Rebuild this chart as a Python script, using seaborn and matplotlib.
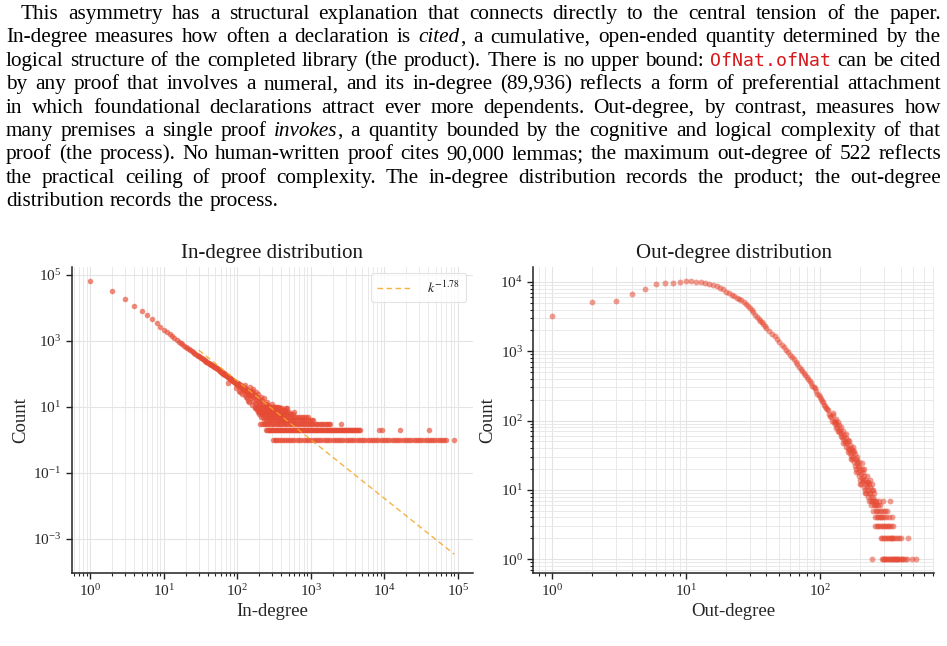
import re
import matplotlib
matplotlib.use("Agg")
import matplotlib.pyplot as plt
from matplotlib.ticker import LogLocator, NullLocator, NullFormatter
from matplotlib.transforms import IdentityTransform
import numpy as np
import pandas as pd
import seaborn as sns

W, H = 947, 646
RED = "#E64B35"
FIT = "#F5A623"

# ---- paragraph above the figure ----
para_lines = [
    "This asymmetry has a structural explanation that connects directly to the central tension of the paper.",
    "In-degree measures how often a declaration is *cited*, a cumulative, open-ended quantity determined by the",
    "logical structure of the completed library (the product). There is no upper bound: `OfNat.ofNat` can be cited",
    "by any proof that involves a numeral, and its in-degree (89,936) reflects a form of preferential attachment",
    "in which foundational declarations attract ever more dependents. Out-degree, by contrast, measures how",
    "many premises a single proof *invokes*, a quantity bounded by the cognitive and logical complexity of that",
    "proof (the process). No human-written proof cites 90,000 lemmas; the maximum out-degree of 522 reflects",
    "the practical ceiling of proof complexity. The in-degree distribution records the product; the out-degree",
    "distribution records the process.",
]

# ---- in-degree distribution (degree, number of declarations) ----
in_head_deg = [1, 2, 3, 4, 5, 6, 7, 8, 9, 10, 11, 12, 13, 14, 15, 16, 17, 18, 19, 20,
               21, 22, 23, 24, 25, 26, 27, 28, 29, 30, 31, 32, 33, 34, 35, 36, 37, 38, 39, 40]
in_head_cnt = [64600, 33100, 17800, 11500, 7900, 5900, 4400, 3450, 2650, 2150,
               1800, 1570, 1340, 1190, 1040, 940, 845, 780, 700, 655,
               600, 556, 512, 482, 445, 420, 392, 376, 350, 334,
               318, 300, 290, 276, 262, 254, 240, 232, 220, 214]

in_mid_deg = [41, 42, 43, 44, 45, 46, 47, 48, 49, 50, 51, 52, 53, 54, 55, 56, 57, 58, 59, 60,
              61, 62, 63, 64, 65, 66, 67, 68, 69, 70, 71, 72, 73, 74, 75, 76, 77, 78, 79, 80,
              81, 82, 83, 84, 85, 86, 87, 88, 89, 90, 91, 92, 93, 94, 95, 96, 97, 98, 99, 100,
              101, 102, 103, 104, 105, 106, 107, 108, 109, 110, 111, 112, 113, 114, 115, 116,
              117, 118, 119, 120, 121, 122, 123, 124, 125, 126, 127, 128, 129, 130, 131, 132,
              133, 134, 135, 136, 137, 138, 139, 140, 141, 142, 143, 144, 145, 146, 147, 148,
              149, 150, 151, 152, 153, 154]
in_mid_cnt = [206, 198, 195, 188, 180, 178, 170, 166, 160, 154, 150, 144, 146, 140, 134, 128, 127, 124, 121, 114,
              112, 112, 108, 102, 99, 101, 97, 92, 90, 90, 88, 86, 82, 80, 84, 79, 76, 74, 71, 73,
              72, 68, 64, 64, 63, 66, 60, 58, 58, 61, 56, 55, 54, 57, 51, 50, 52, 53, 47, 48,
              46, 51, 50, 43, 47, 44, 42, 45, 41, 41, 43, 46, 38, 42, 38, 37,
              40, 40, 35, 38, 34, 33, 37, 38, 32, 36, 31, 30, 34, 35, 30, 33,
              28, 28, 31, 33, 27, 30, 26, 26, 29, 30, 25, 28, 24, 23, 27, 28,
              22, 26, 22, 21, 25, 27]

in_low_deg = [75, 95, 105, 110, 118, 126, 128, 131, 138, 141, 146, 150, 160, 165, 172]
in_low_cnt = [52, 36, 30, 28, 24, 22, 45, 20, 18, 15, 14, 40, 11, 35, 9]

in_spread_deg = [155, 158, 160, 163, 166, 169, 172, 175, 178, 181, 184, 187, 190, 193, 196, 200,
                 203, 206, 210, 214, 218, 222, 226, 230, 235, 240, 245, 250, 255, 260, 265, 270,
                 276, 282, 288, 294, 300, 306, 313, 320, 327, 335, 343, 352, 361, 370, 380, 390,
                 400, 412, 425, 440, 455, 477, 585]
in_spread_cnt = [18, 30, 24, 15, 26, 20, 13, 22, 17, 28, 12, 19, 15, 24, 11, 17,
                 14, 9, 20, 12, 16, 8, 13, 10, 18, 7, 12, 9, 14, 6, 11, 8,
                 10, 5, 9, 7, 12, 6, 8, 5, 10, 7, 4, 6, 9, 5, 7, 4,
                 6, 8, 5, 4, 9, 9, 7]

# small-count rows of the in-degree tail
in_rows = {
    10: [176, 190, 204, 219, 235, 252, 270, 289, 309, 330, 352, 375],
    9: [180, 194, 208, 223, 239, 256, 274, 293, 313, 334, 356, 380, 405],
    8: [186, 200, 214, 229, 245, 262, 280, 299, 319, 340, 362, 386, 411, 438, 450],
    7: [192, 206, 220, 235, 251, 268, 286, 305, 325, 346, 369, 393, 419, 446, 475, 506],
    6: [198, 212, 226, 241, 257, 274, 292, 311, 331, 352, 375, 399, 425, 452, 481, 512, 545, 580],
    5: [210, 224, 238, 253, 269, 286, 304, 323, 343, 365, 388, 412, 438, 466, 495, 526, 559, 594,
        631, 671, 713, 758, 805, 860, 920],
    4: [230, 245, 260, 276, 292, 310, 328, 348, 368, 390, 413, 437, 463, 490, 519, 550, 582, 616,
        652, 690, 731, 774, 820, 868, 919, 973, 1030, 1090],
    3: [205, 219, 228, 240, 254, 266, 280, 295, 311, 326, 344, 361, 381, 400, 421, 443, 466, 491,
        516, 543, 571, 601, 632, 665, 700, 737, 776, 817, 860, 905, 952, 1002, 1055, 1110, 1168,
        1230, 1295, 1363, 1435, 1510, 1590, 1673, 1761, 1853, 2600],
    2: [250, 258, 267, 274, 283, 292, 301, 311, 320, 330, 341, 351, 362, 373, 385, 397, 409, 422,
        435, 449, 463, 478, 493, 508, 524, 541, 558, 575, 593, 612, 631, 651, 672, 693, 715, 737,
        760, 784, 809, 834, 860, 887, 915, 944, 974, 1005, 1037, 1070, 1104, 1139, 1175, 1212,
        1250, 1290, 1331, 1373, 1416, 1461, 1507, 1555, 1604, 1655, 1707, 1761, 1817, 1874, 1933,
        1994, 2057, 2122, 2189, 2258, 2330, 2403, 2479, 2557, 2638, 2722, 2808, 2897, 2988, 3083,
        3180, 3281, 3385, 3492, 3602, 3716, 3834, 3955, 4080, 4209, 4342, 4480, 4700, 8400, 9300,
        16300, 41000],
    1: [310, 322, 341, 362, 381, 404, 431, 461, 489, 521, 561, 601, 641, 691, 741, 801,
        861, 921, 991, 1061, 1141, 1221, 1311, 1401, 1501, 1611, 1731, 1851, 1981, 2121,
        2271, 2431, 2601, 2791, 2991, 3201, 3431, 3671, 3931, 4211, 4511, 4831, 5171,
        5541, 5931, 6351, 6801, 7281, 7801, 8351, 8951, 9591, 10270, 11000, 11780,
        12620, 13520, 14480, 15510, 16610, 17790, 19060, 20410, 21860, 23420, 25080,
        26860, 28770, 30810, 33000, 35350, 37860, 40550, 43430, 46520, 49820, 53360,
        57150, 61210, 65560, 70220, 89936],
}

# power-law fit shown as dashed line
fit_exponent = -1.78
fit_scale = 2.19e5
fit_kmin, fit_kmax = 30, 89936

# ---- out-degree distribution ----
out_main_deg = [1, 2, 3, 4, 5, 6, 7, 8, 9, 10, 11, 12, 13, 14, 15, 16, 17, 18, 19, 20,
                21, 22, 23, 24, 25, 26, 27, 28, 29, 30, 31, 32, 33, 34, 35, 36, 37, 38, 39, 40,
                42, 44, 46, 48, 50, 52, 54, 56, 58, 60, 62, 64, 66, 68, 70, 72, 74, 76, 78, 80,
                82, 84, 86, 88, 90, 92, 94, 96, 98, 100, 102, 104, 106, 108, 110, 112, 114, 116, 118]
out_main_cnt = [3190, 5090, 5370, 6710, 7930, 9250, 9700, 9750, 9850, 10330,
                10200, 10050, 9850, 9650, 9400, 9100, 8750, 8300, 7800, 7250,
                6900, 6500, 6200, 5900, 5650, 5400, 5100, 4750, 4450, 4150,
                3900, 3650, 3350, 3100, 2950, 2750, 2600, 2450, 2300, 2180,
                1980, 1800, 1640, 1500, 1360, 1250, 1140, 1050, 960, 890,
                820, 760, 700, 650, 600, 560, 525, 490, 455, 425,
                400, 375, 350, 320, 300, 290, 270, 245, 235, 220,
                205, 190, 185, 170, 160, 150, 148, 140, 125]

out_tail_deg = [120, 122, 124, 125, 127, 129, 130, 132, 133, 135, 137, 138, 140, 142, 143, 145,
                147, 148, 150, 152, 153, 155, 157, 158, 160, 162, 163, 165, 167, 168, 170, 172,
                173, 175, 177, 178, 180, 182, 183, 185, 187, 188, 190, 192, 193, 195, 197, 198,
                200, 202, 204, 205, 207, 209, 210, 212, 214, 216, 218, 220, 222, 224, 226, 228,
                230, 232, 234, 236, 238, 240, 243, 245, 247, 250, 252, 255, 258,
                126, 131, 136, 144, 149, 156, 161, 166, 171, 176, 181, 186, 191, 196, 201, 206,
                211, 215, 219, 225, 229, 233, 237, 242, 246, 249, 251, 257]
out_tail_cnt = [118, 112, 98, 120, 95, 100, 88, 78, 92, 80, 70, 85, 68, 74, 60, 65,
                58, 70, 55, 62, 48, 50, 56, 42, 47, 40, 52, 38, 44, 34, 40, 31,
                37, 28, 35, 30, 25, 33, 22, 28, 20, 26, 24, 18, 22, 16, 21, 14,
                19, 17, 12, 20, 15, 13, 18, 11, 16, 10, 14, 12, 9, 13, 11, 8,
                10, 12, 7, 9, 11, 8, 6, 10, 7, 5, 9, 6, 4,
                130, 105, 95, 80, 48, 64, 35, 50, 28, 42, 36, 18, 30, 25, 12, 24,
                14, 20, 9, 16, 13, 9, 14, 7, 12, 8, 10, 7]

out_rows = {
    1: [244, 291, 296, 301, 307, 312, 319, 326, 331, 337, 343, 351, 357, 363, 371, 379,
        386, 393, 401, 411, 421, 432, 446, 486, 522],
    2: [284, 293, 299, 309, 316, 323, 333, 340, 347, 354, 366, 375, 388, 406, 458],
    3: [259, 267, 274, 282, 289, 297, 304, 311, 321, 329, 338, 352],
    4: [266, 273, 279, 286, 292, 302, 314, 328, 344],
    5: [262, 269, 277, 287, 294, 306, 318],
    6: [256, 264, 271, 281],
    7: [253, 261, 276, 298, 336],
}

in_deg = in_head_deg + in_mid_deg + in_low_deg + in_spread_deg
in_cnt = in_head_cnt + in_mid_cnt + in_low_cnt + in_spread_cnt
for c, ks in in_rows.items():
    in_deg += ks
    in_cnt += [c] * len(ks)
in_df = pd.DataFrame({"deg": in_deg, "count": in_cnt})

out_deg = out_main_deg + out_tail_deg
out_cnt = out_main_cnt + out_tail_cnt
for c, ks in out_rows.items():
    out_deg += ks
    out_cnt += [c] * len(ks)
out_df = pd.DataFrame({"deg": out_deg, "count": out_cnt})

fit_k = np.array([fit_kmin, fit_kmax], dtype=float)
fit_y = fit_scale * fit_k ** fit_exponent

# ---- figure ----
sns.set_style("ticks")
plt.rcParams["font.family"] = ["Liberation Serif", "DejaVu Serif"]
plt.rcParams["mathtext.fontset"] = "stix"
plt.rcParams["text.color"] = "#1a1a1a"

fig = plt.figure(figsize=(W / 100, H / 100), dpi=100)
renderer = fig.canvas.get_renderer()
ident = IdentityTransform()

STYLES = {
    "rm": dict(family=["Liberation Serif"], style="normal", color="black"),
    "it": dict(family=["Liberation Serif"], style="italic", color="black"),
    "tt": dict(family=["DejaVu Sans Mono"], color="#D7191C"),
}


def split_words(line):
    words = []
    for tok in line.split(" "):
        segs = []
        for part in re.split(r"(\*[^*]+\*|`[^`]+`)", tok):
            if not part:
                continue
            if part.startswith("*"):
                segs.append((part[1:-1], "it"))
            elif part.startswith("`"):
                segs.append((part[1:-1], "tt"))
            else:
                segs.append((part, "rm"))
        words.append(segs)
    return words


def seg_size(style, size):
    return size * 0.86 if style == "tt" else size


def seg_width(txt, style, size):
    t = fig.text(0, 0, txt, fontsize=seg_size(style, size), transform=ident, **STYLES[style])
    w = t.get_window_extent(renderer).width
    t.remove()
    return w


right_edge = 941
base_size = 14.0
lefts = [21] + [6] * (len(para_lines) - 1)
parsed = [split_words(l) for l in para_lines]

ratio = 0
for i, words in enumerate(parsed[:-1]):
    tot = sum(seg_width(t, s, base_size) for w in words for t, s in w)
    natural = tot + (len(words) - 1) * 0.25 * base_size * 100 / 72
    ratio = max(ratio, natural / (right_edge - lefts[i]))
size = base_size * 0.99 / ratio

for i, words in enumerate(parsed):
    baseline = 19 + 23.4 * i
    widths = [[seg_width(t, s, size) for t, s in w] for w in words]
    total = sum(sum(ws) for ws in widths)
    if i < len(parsed) - 1:
        gap = (right_edge - lefts[i] - total) / (len(words) - 1)
    else:
        gap = 0.27 * size * 100 / 72
    x = lefts[i]
    for w, ws in zip(words, widths):
        for (t, s), sw in zip(w, ws):
            fig.text(x, H - baseline, t, fontsize=seg_size(s, size), va="baseline",
                     ha="left", transform=ident, **STYLES[s])
            x += sw
        x += gap

# ---- charts ----
ax1 = fig.add_axes([72 / W, 1 - 573 / H, 400.7 / W, 306.3 / H])
ax2 = fig.add_axes([533.3 / W, 1 - 573 / H, 400.7 / W, 306.3 / H])

sns.scatterplot(data=in_df, x="deg", y="count", ax=ax1, s=16, color=RED,
                alpha=0.65, linewidth=0, legend=False, zorder=3)
sns.lineplot(x=fit_k, y=fit_y, ax=ax1, color=FIT, alpha=0.85, lw=1.0,
             linestyle=(0, (4, 2.5)), label=r"$k^{-1.78}$", zorder=4)
sns.scatterplot(data=out_df, x="deg", y="count", ax=ax2, s=18, color=RED,
                alpha=0.55, linewidth=0, legend=False, zorder=3)

for ax in (ax1, ax2):
    ax.set_xscale("log")
    ax.set_yscale("log")
    ax.set_axisbelow(True)
    ax.xaxis.set_major_locator(LogLocator(base=10, numticks=20))
    ax.xaxis.set_minor_locator(LogLocator(base=10, subs=np.arange(2, 10), numticks=20))
    ax.xaxis.set_minor_formatter(NullFormatter())
    ax.tick_params(axis="both", which="major", labelsize=11, length=4, width=1,
                   color="#222222", direction="out")
    ax.tick_params(axis="both", which="minor", length=2, width=0.8, color="#222222")
    ax.set_ylabel("Count", fontsize=13.5, labelpad=3)
    for sp in ("left", "bottom"):
        ax.spines[sp].set_color("#222222")
        ax.spines[sp].set_linewidth(1.1)
    sns.despine(ax=ax)

ax1.set_xlim(0.565, 1.6e5)
ax1.set_ylim(9e-5, 1.75e5)
ax1.set_yticks([1e-3, 1e-1, 1e1, 1e3, 1e5])
ax1.yaxis.set_minor_locator(NullLocator())
ax1.grid(True, which="major", color="#e4e4e4", lw=0.8)
ax1.grid(True, which="minor", axis="x", color="#e9e9e9", lw=0.7)
ax1.set_title("In-degree distribution", fontsize=15, pad=6)
ax1.set_xlabel("In-degree", fontsize=13.5, labelpad=3)
leg = ax1.legend(loc="upper right", fontsize=10, frameon=True, fancybox=True,
                 handlelength=2.4, borderpad=0.45, handletextpad=1.2, borderaxespad=0.45)
leg.get_frame().set_edgecolor("#dddddd")
leg.get_frame().set_linewidth(0.8)

ax2.set_xlim(0.73, 711)
ax2.set_ylim(0.63, 1.66e4)
ax2.yaxis.set_major_locator(LogLocator(base=10, numticks=20))
ax2.yaxis.set_minor_locator(LogLocator(base=10, subs=np.arange(2, 10), numticks=20))
ax2.yaxis.set_minor_formatter(NullFormatter())
ax2.grid(True, which="major", color="#e4e4e4", lw=0.8)
ax2.grid(True, which="minor", color="#e9e9e9", lw=0.7)
ax2.set_title("Out-degree distribution", fontsize=15, pad=6)
ax2.set_xlabel("Out-degree", fontsize=13.5, labelpad=3)

fig.savefig("out.png", dpi=100)
